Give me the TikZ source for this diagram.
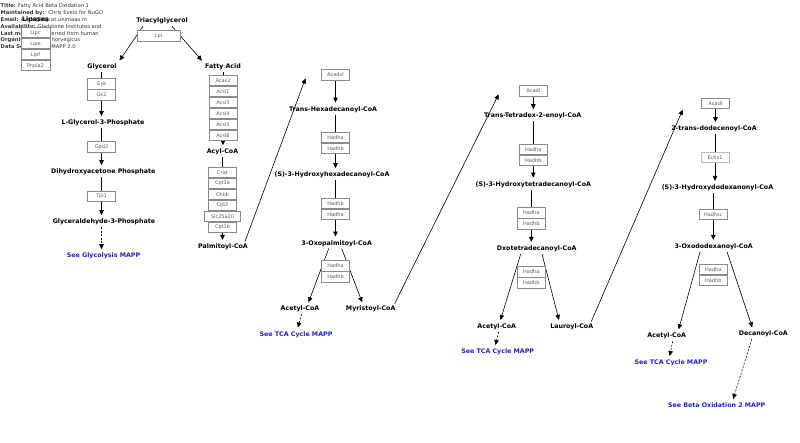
\documentclass[tikz,border=0pt]{standalone}
\usepackage{fontspec}
\setmainfont{DejaVu Sans}
\usepackage{xcolor}
\usepackage{tikz}
\usetikzlibrary{positioning,arrows.meta,backgrounds}
\definecolor{mapplink}{HTML}{1F1FE0}
\definecolor{geneline}{HTML}{8A8A8A}
\definecolor{genetext}{HTML}{5A5A5A}

\begin{document}
\begin{tikzpicture}[x=1pt,y=-1pt,
    met/.style={font=\fontsize{6.3}{7}\selectfont\bfseries,inner sep=2pt},
    maplink/.style={met,text=mapplink},
    gene/.style={draw=geneline,fill=white,text=genetext,font=\fontsize{5}{5}\selectfont,minimum width=28pt,minimum height=10.3pt,inner sep=0pt,line width=0.7pt},
    conv/.style={-{Triangle[length=5pt,width=4.5pt]},line width=0.6pt,shorten >=1.5pt},
    hint/.style={conv,dash pattern=on 2pt off 1.5pt}]
  \useasboundingbox (0,0) rectangle (800,443);

  % pathway info
  \node[anchor=north west,inner sep=0pt,align=left,text=black!80,font=\fontsize{5.2}{6.8}\selectfont] (info) at (0.5,3.8) {%
    \textbf{Title:} Fatty Acid Beta Oxidation 1\\
    \textbf{Maintained by:} \ Chris Evelo for NuGO\\
    \textbf{Email:} evelo@bigcat.unimaas.nl\\
    \textbf{Availability:} Gladstone Institutes and\\
    \textbf{Last modified:} Inferred from human\\
    \textbf{Organism:} Rattus norvegicus\\
    \textbf{Data Source:} GenMAPP 2.0};
  \node[met] (lipases) at (35.5,20) {Lipases};
  \node[gene,minimum width=29pt] (lipc) at (35.5,32.7) {Lipc};
  \node[gene,minimum width=29pt,below=0pt of lipc] (lipe) {Lipe};
  \node[gene,minimum width=29pt,below=0pt of lipe] (lipf) {Lipf};
  \node[gene,minimum width=29pt,below=0pt of lipf] (pnpla2) {Pnpla2};

  % glycerol side
  \node[met] (tag) at (162,21) {Triacylglycerol};
  \node[gene,minimum width=43pt] (lpl) at (158.5,35.8) {Lpl};
  \node[met] (gly) at (102,67) {Glycerol};
  \node[gene] (gyk) at (101.5,84) {Gyk};
  \node[gene,below=0pt of gyk] (gk2) {Gk2};
  \node[met] (g3p) at (103,123) {L-Glycerol-3-Phosphate};
  \node[gene] (gpd2) at (101.5,147) {Gpd2};
  \node[met] (dhap) at (103.3,172) {Dihydroxyacetone Phosphate};
  \node[gene] (tpi1) at (101.5,196.5) {Tpi1};
  \node[met] (gap) at (104,222) {Glyceraldehyde-3-Phosphate};
  \node[maplink] (glylink) at (103.5,256) {See Glycolysis MAPP};

  % fatty acid activation
  \node[met] (fa) at (223,67) {Fatty Acid};
  \node[gene] (acas2) at (223,80.7) {Acas2};
  \node[gene,below=0pt of acas2] (acsl1) {Acsl1};
  \node[gene,below=0pt of acsl1] (acsl3) {Acsl3};
  \node[gene,below=0pt of acsl3] (acsl4) {Acsl4};
  \node[gene,below=0pt of acsl4] (acsl5) {Acsl5};
  \node[gene,below=0pt of acsl5] (acsl6) {Acsl6};
  \node[met] (acyl) at (222.5,152) {Acyl-CoA};
  \node[gene] (crat) at (222.5,172.3) {Crat};
  \node[gene,below=0pt of crat] (cpt1a) {Cpt1a};
  \node[gene,below=0pt of cpt1a] (chkb) {Chkb};
  \node[gene,below=0pt of chkb] (cpt2) {Cpt2};
  \node[gene,minimum width=36pt,below=0pt of cpt2] (slc) {Slc25a20};
  \node[gene,below=0pt of slc] (cpt1b) {Cpt1b};
  \node[met] (palm) at (223,246.7) {Palmitoyl-CoA};

  % first round
  \node[gene] (acadvl) at (335.5,75) {Acadvl};
  \node[met] (thd) at (333,109.3) {Trans-Hexadecanoyl-CoA};
  \node[gene] (hadha1) at (335.5,137.5) {Hadha};
  \node[gene,below=0pt of hadha1] (hadhb1) {Hadhb};
  \node[met] (shd) at (332,175) {(S)-3-Hydroxyhexadecanoyl-CoA};
  \node[gene] (hadhb2) at (335.5,203.3) {Hadhb};
  \node[gene,below=0pt of hadhb2] (hadha2) {Hadha};
  \node[met] (opc) at (336.7,243.3) {3-Oxopalmitoyl-CoA};
  \node[gene] (hadha3) at (335.5,265.8) {Hadha};
  \node[gene,below=0pt of hadha3] (hadhb3) {Hadhb};
  \node[met] (ac1) at (300,309) {Acetyl-CoA};
  \node[met] (myr) at (370.7,309) {Myristoyl-CoA};
  \node[maplink] (tca1) at (296,334.3) {See TCA Cycle MAPP};

  % second round
  \node[gene] (acadl1) at (533.3,91) {Acadl};
  \node[met] (ttd) at (532.7,116) {Trans-Tetradex-2-enoyl-CoA};
  \node[gene] (hadha4) at (533.3,149.7) {Hadha};
  \node[gene,below=0pt of hadha4] (hadhb4) {Hadhb};
  \node[met] (shtd) at (533.3,184.3) {(S)-3-Hydroxytetradecanoyl-CoA};
  \node[gene] (hadha5) at (531.3,212.8) {Hadha};
  \node[gene,below=0pt of hadha5] (hadhb5) {Hadhb};
  \node[met] (otd) at (536.7,248.7) {Dxotetradecanoyl-CoA};
  \node[gene] (hadha6) at (531.3,271.8) {Hadha};
  \node[gene,below=0pt of hadha6] (hadhb6) {Hadhb};
  \node[met] (ac2) at (496.7,326.7) {Acetyl-CoA};
  \node[met] (lau) at (571.7,326.7) {Lauroyl-CoA};
  \node[maplink] (tca2) at (497.7,351.7) {See TCA Cycle MAPP};

  % third round
  \node[gene] (acadl2) at (715.5,103.7) {Acadl};
  \node[met] (tdd) at (714,129) {2-trans-dodecenoyl-CoA};
  \node[gene,draw=geneline!60] (echs1) at (715,157.5) {Echs1};
  \node[met] (shdd) at (717.5,187.7) {(S)-3-Hydroxydodexanonyl-CoA};
  \node[gene] (hadhsc) at (713.3,214.3) {Hadhsc};
  \node[met] (odd) at (713.7,246.7) {3-Oxododexanoyl-CoA};
  \node[gene] (hadha7) at (713.3,269.7) {Hadha};
  \node[gene,below=0pt of hadha7] (hadhb7) {Hadhb};
  \node[met] (ac3) at (666.7,336) {Acetyl-CoA};
  \node[met] (dec) at (763.3,334) {Decanoyl-CoA};
  \node[maplink] (tca3) at (671,362.7) {See TCA Cycle MAPP};
  \node[maplink] (beta2) at (716.7,405) {See Beta Oxidation 2 MAPP};

  \coordinate (up1) at (306,77);
  \coordinate (up2) at (499.3,93);
  \coordinate (up3) at (683.3,108.3);

  \begin{scope}[on background layer]
    \draw[conv] ([xshift=-19pt]tag.south) -- (gly.north east);
    \draw[conv] ([xshift=10pt]tag.south) -- (fa.north west);
    \draw[conv] (gly.south -| gyk) -- (g3p.north -| gyk);
    \draw[conv] (g3p.south -| gpd2) -- (dhap.north -| gpd2);
    \draw[conv] (dhap.south -| tpi1) -- (gap.north -| tpi1);
    \draw[hint] (gap.south -| tpi1) -- (glylink.north -| tpi1);
    \draw[conv] (fa.south -| acas2) -- (acyl.north -| acas2);
    \draw[conv] (acyl.south -| crat) -- (palm.north -| crat);
    \draw[conv] ([xshift=-5pt]palm.north east) -- (up1);

    \draw[conv] (acadvl) -- (thd.north -| acadvl);
    \draw[conv] (thd.south -| hadha1) -- (shd.north -| hadha1);
    \draw[conv] (shd.south -| hadhb2) -- (opc.north -| hadhb2);
    \draw[conv] ([xshift=-8pt]opc.south) -- ([xshift=8pt]ac1.north);
    \draw[conv] ([xshift=5pt]opc.south) -- ([xshift=-8pt]myr.north);
    \draw[hint] ([xshift=1.5pt]ac1.south) -- ([xshift=1.5pt]tca1.north);
    \draw[conv] ([xshift=-3pt]myr.north east) -- (up2);

    \draw[conv] (acadl1) -- (ttd.north -| acadl1);
    \draw[conv] (ttd.south -| hadha4) -- (shtd.north -| hadha4);
    \draw[conv] (shtd.south -| hadha5) -- (otd.north -| hadha5);
    \draw[conv] ([xshift=-16pt]otd.south) -- ([xshift=3.3pt]ac2.north);
    \draw[conv] ([xshift=5.3pt]otd.south) -- ([xshift=-12.4pt]lau.north);
    \draw[hint] ([xshift=2pt]ac2.south) -- ([xshift=-2.7pt]tca2.north);
    \draw[conv] ([xshift=-4pt]lau.north east) -- (up3);

    \draw[conv] (acadl2) -- (tdd.north -| acadl2);
    \draw[conv] (tdd.south -| echs1) -- (shdd.north -| echs1);
    \draw[conv] (shdd.south -| hadhsc) -- (odd.north -| hadhsc);
    \draw[conv] ([xshift=-13.7pt]odd.south) -- ([xshift=11.6pt]ac3.north);
    \draw[conv] ([xshift=13.4pt]odd.south) -- ([xshift=-10.6pt]dec.north);
    \draw[hint] ([xshift=6pt]ac3.south) -- ([xshift=-1.7pt]tca3.north);
    \draw[hint] ([xshift=-11.6pt]dec.south) -- ([xshift=16pt]beta2.north);
  \end{scope}
\end{tikzpicture}
\end{document}
